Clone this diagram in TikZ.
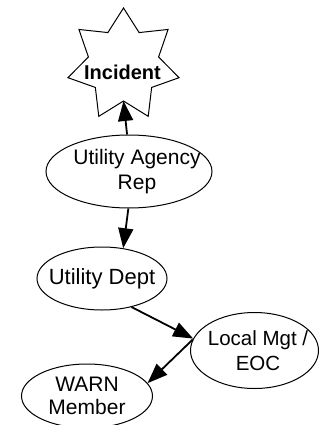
\documentclass[tikz,border=0pt]{standalone}
\usepackage{fontspec}
\setmainfont{Liberation Sans}
\usetikzlibrary{shapes.geometric,arrows.meta}
\begin{document}
\begin{tikzpicture}[x=1pt,y=-1pt,
  unit/.style={draw, ellipse, line width=1pt, inner sep=0pt},
  caption/.style={align=center, inner sep=0pt, font=\fontsize{22}{25}\selectfont},
  starline/.style={draw, line width=1pt, line join=miter},
  link/.style={line width=1.8pt, -{Triangle[length=20pt,width=15pt]}}
]
\useasboundingbox (0,0) rectangle (322,425);
\clip (0,0) rectangle (322,425);

% seven-pointed incident star
\begin{scope}[shift={(123.5,65)}]
  \draw[starline] (90:57pt)
    \foreach \k [evaluate=\k as \r using {isodd(\k) ? 36 : 57}] in {1,...,13} {
      -- ({90+\k*360/14}:\r pt)
    } -- cycle;
\end{scope}
\node[font=\bfseries\fontsize{20}{24}\selectfont, inner sep=0pt] (incident) at (122.5,72) {Incident};
\coordinate (incidentTip) at (123.5,101);

% organisations
\node[unit, minimum width=166pt, minimum height=73pt] (rep) at (129,171.5) {};
\node[caption, font=\fontsize{21}{25}\selectfont] at ([xshift=8pt]rep.center) {Utility Agency\\Rep};
\node[unit, minimum width=130pt, minimum height=63pt] (dept) at (102,278.5) {};
\node[caption] at (dept.center) {Utility Dept};
\node[unit, minimum width=128pt, minimum height=76pt] (local) at (254.5,350.5) {};
\node[caption, font=\fontsize{20.5}{25}\selectfont] at ([xshift=3.5pt]local.center) {Local Mgt /\\EOC};
\node[unit, minimum width=131pt, minimum height=64pt] (warn) at (87,396) {};
\node[caption, font=\fontsize{21}{23}\selectfont] at (warn.center) {WARN\\Member};

% reporting chain
\draw[link] (rep.93) -- (incidentTip);
\draw[link] (rep.-91) -- (dept.55);
\draw[link] (dept.-44) -- (local.169);
\draw[link] (local.170) -- (warn.12);
\end{tikzpicture}
\end{document}
